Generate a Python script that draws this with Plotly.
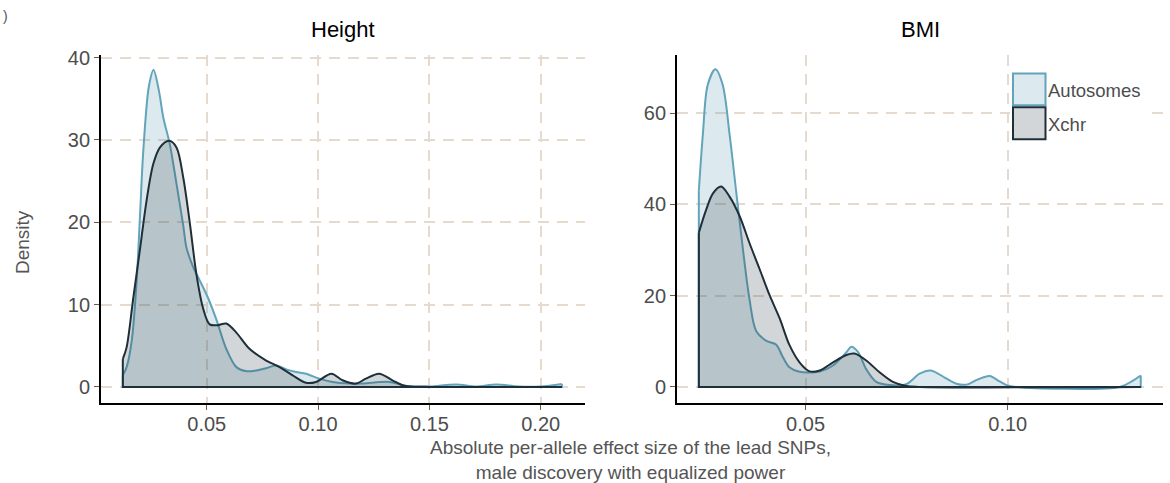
import plotly.graph_objects as go

# ---- density estimates, read as (effect size, density) pairs ----
height_auto_x = [0.0123, 0.0140, 0.0163, 0.0185, 0.0200, 0.0215, 0.0240, 0.0261, 0.0285, 0.0305,
                 0.0334, 0.0364, 0.0395, 0.0409, 0.0440, 0.0469, 0.0506, 0.0543, 0.0588, 0.0633,
                 0.0680, 0.0722, 0.0770, 0.0812, 0.0860, 0.0901, 0.0946, 0.1006, 0.1065, 0.1140,
                 0.1200, 0.1320, 0.1400, 0.1500, 0.1620, 0.1710, 0.1800, 0.1900, 0.2000, 0.2095]
height_auto_y = [1.4, 2.4, 5.6, 12.8, 20.7, 28.7, 36.5, 38.5, 36.0, 32.7,
                 29.5, 24.7, 19.5, 16.9, 14.5, 12.9, 10.8, 8.2, 4.6, 2.4,
                 1.9, 2.0, 2.3, 2.6, 2.1, 1.8, 1.6, 1.0, 0.6, 0.4,
                 0.4, 0.6, 0.1, 0.05, 0.3, 0.05, 0.3, 0.05, 0.05, 0.35]

height_x_x = [0.0123, 0.0140, 0.0170, 0.0200, 0.0230, 0.0260, 0.0290, 0.0331, 0.0364, 0.0394,
              0.0424, 0.0454, 0.0483, 0.0513, 0.0550, 0.0588, 0.0633, 0.0693, 0.0767, 0.0827,
              0.0886, 0.0946, 0.0991, 0.1060, 0.1110, 0.1170, 0.1215, 0.1274, 0.1334, 0.1380,
              0.1420, 0.1500, 0.2095]
height_x_y = [3.4, 4.8, 10.8, 16.7, 22.7, 27.1, 29.1, 29.9, 29.1, 25.5,
              19.9, 13.6, 9.6, 7.6, 7.5, 7.7, 6.6, 4.6, 3.2, 2.4,
              1.4, 0.5, 0.6, 1.6, 0.8, 0.4, 1.0, 1.6, 0.8, 0.2,
              0.05, 0.0, 0.0]

bmi_auto_x = [0.0236, 0.0246, 0.0258, 0.0277, 0.0295, 0.0312, 0.0328, 0.0345, 0.0361, 0.0378,
              0.0403, 0.0427, 0.0444, 0.0460, 0.0485, 0.0535, 0.0568, 0.0601, 0.0613, 0.0630,
              0.0650, 0.0675, 0.0708, 0.0749, 0.0782, 0.0810, 0.0845, 0.0873, 0.0898, 0.0925,
              0.0955, 0.0980, 0.0997, 0.1020, 0.1277, 0.1310, 0.1329]
bmi_auto_y = [43.0, 55.4, 66.2, 69.6, 66.2, 55.4, 43.1, 30.2, 19.4, 12.2,
              10.1, 9.3, 6.5, 4.3, 3.3, 3.4, 4.7, 7.6, 8.8, 7.6,
              3.9, 1.1, 0.4, 0.6, 2.9, 3.6, 2.0, 0.7, 0.5, 1.6,
              2.4, 1.2, 0.4, 0.0, 0.0, 1.4, 2.5]

bmi_x_x = [0.0236, 0.0254, 0.0271, 0.0291, 0.0312, 0.0337, 0.0361, 0.0386, 0.0411, 0.0436,
           0.0460, 0.0485, 0.0510, 0.0535, 0.0568, 0.0601, 0.0621, 0.0650, 0.0683, 0.0716,
           0.0749, 0.0780, 0.1329]
bmi_x_y = [33.8, 38.8, 42.4, 43.9, 41.7, 37.4, 31.6, 25.9, 20.1, 15.0,
           9.2, 5.4, 3.4, 3.6, 5.4, 7.0, 7.3, 5.8, 3.2, 1.1,
           0.2, 0.0, 0.0]

panel_titles = ["Height", "BMI"]
group_names = ["Autosomes", "Xchr"]
height_xticks = [0.05, 0.10, 0.15, 0.20]
bmi_xticks = [0.05, 0.10]
height_yticks = [0, 10, 20, 30, 40]
bmi_yticks = [0, 20, 40, 60]

# ---- styling ----
W, H = 1170, 483
AUTO_LINE = "#62a4ba"
AUTO_FILL = "rgba(80,145,170,0.2)"
XCHR_LINE = "#1f2f39"
XCHR_FILL = "rgba(35,50,60,0.2)"
FONT = "Liberation Sans, Arial, sans-serif"
TICK_GREY = "#4d4d4d"


def px_x(p):
    return p / W


def px_y(p):
    return (H - p) / H


fig = go.Figure()


def add_density(xs, ys, line_col, fill_col, xa, ya, name):
    # smooth upper curve filled down to zero
    fig.add_trace(go.Scatter(
        x=xs, y=ys, mode="lines", name=name, showlegend=False,
        line=dict(color=line_col, width=2, shape="spline", smoothing=0.9),
        fill="tozeroy", fillcolor=fill_col, xaxis=xa, yaxis=ya,
        hoverinfo="skip"))
    # polygon sides and base
    fig.add_trace(go.Scatter(
        x=[xs[0], xs[0], xs[-1], xs[-1]], y=[ys[0], 0, 0, ys[-1]],
        mode="lines", showlegend=False, line=dict(color=line_col, width=2),
        xaxis=xa, yaxis=ya, hoverinfo="skip"))


add_density(height_auto_x, height_auto_y, AUTO_LINE, AUTO_FILL, "x", "y", group_names[0])
add_density(height_x_x, height_x_y, XCHR_LINE, XCHR_FILL, "x", "y", group_names[1])
add_density(bmi_auto_x, bmi_auto_y, AUTO_LINE, AUTO_FILL, "x2", "y2", group_names[0])
add_density(bmi_x_x, bmi_x_y, XCHR_LINE, XCHR_FILL, "x2", "y2", group_names[1])

axis_common = dict(
    showline=True, linecolor="black", linewidth=1.8,
    ticks="outside", ticklen=5, tickwidth=1.2, tickcolor="#6e5a4b",
    showgrid=True, gridcolor="#e6dace", gridwidth=1.5, griddash="11px,8px",
    zeroline=False, tickfont=dict(size=20, color=TICK_GREY, family=FONT),
    fixedrange=True,
)

y_dom = [px_y(402), px_y(48)]

fig.update_layout(
    width=W, height=H, autosize=False,
    margin=dict(l=0, r=0, t=0, b=0),
    paper_bgcolor="white", plot_bgcolor="white",
    showlegend=False,
    xaxis=dict(axis_common, domain=[px_x(101), px_x(585)], range=[0.0025, 0.2199],
               tickvals=height_xticks, ticktext=[f"{v:.2f}" for v in height_xticks],
               anchor="y", ticklabelstandoff=-3),
    yaxis=dict(axis_common, domain=y_dom, range=[-2.0, 40.3],
               tickvals=height_yticks, ticktext=[str(v) for v in height_yticks],
               anchor="x"),
    xaxis2=dict(axis_common, domain=[px_x(677), px_x(1163)], range=[0.0182, 0.1384],
                tickvals=bmi_xticks, ticktext=[f"{v:.2f}" for v in bmi_xticks],
                anchor="y2", ticklabelstandoff=-3),
    yaxis2=dict(axis_common, domain=y_dom, range=[-3.6, 72.7],
                tickvals=bmi_yticks, ticktext=[str(v) for v in bmi_yticks],
                anchor="x2"),
)

annotations = [
    dict(text=panel_titles[0], x=px_x(343), y=px_y(22), xref="paper", yref="paper",
         showarrow=False, xanchor="center", yanchor="middle",
         font=dict(size=22, color="black", family=FONT)),
    dict(text=panel_titles[1], x=px_x(920), y=px_y(22), xref="paper", yref="paper",
         showarrow=False, xanchor="center", yanchor="middle",
         font=dict(size=22, color="black", family=FONT)),
    dict(text="Density", x=px_x(22), y=px_y(238), xref="paper", yref="paper",
         showarrow=False, textangle=-90, xanchor="center", yanchor="middle",
         font=dict(size=19, color="#555555", family=FONT)),
    dict(text="Absolute per-allele effect size of the lead SNPs,<br>male discovery with equalized power",
         x=px_x(630), y=px_y(460), xref="paper", yref="paper", showarrow=False,
         xanchor="center", yanchor="middle",
         font=dict(size=19, color="#555555", family=FONT)),
    dict(text=")", x=px_x(1), y=px_y(8), xref="paper", yref="paper", showarrow=False,
         xanchor="left", yanchor="middle", font=dict(size=14, color="#555555", family=FONT)),
]

# legend: white backing, two keys and labels
shapes = [
    dict(type="rect", xref="paper", yref="paper", x0=px_x(1010), x1=px_x(1150),
         y0=px_y(138), y1=px_y(62), fillcolor="white", line=dict(width=0), layer="above"),
    dict(type="rect", xref="paper", yref="paper", x0=px_x(1013), x1=px_x(1045.5),
         y0=px_y(99), y1=px_y(66.5), fillcolor="#dce9ee", line=dict(color=AUTO_LINE, width=2),
         layer="above"),
    dict(type="rect", xref="paper", yref="paper", x0=px_x(1013), x1=px_x(1045.5),
         y0=px_y(133.5), y1=px_y(101), fillcolor="#d3d6d8", line=dict(color=XCHR_LINE, width=2),
         layer="above"),
]
annotations += [
    dict(text=group_names[0], x=px_x(1046), y=px_y(83.5), xref="paper", yref="paper",
         showarrow=False, xanchor="left", yanchor="middle",
         font=dict(size=18.5, color=TICK_GREY, family=FONT)),
    dict(text=group_names[1], x=px_x(1046), y=px_y(118.5), xref="paper", yref="paper",
         showarrow=False, xanchor="left", yanchor="middle",
         font=dict(size=18.5, color=TICK_GREY, family=FONT)),
]

fig.update_layout(annotations=annotations, shapes=shapes)

fig.write_html("out.html")
